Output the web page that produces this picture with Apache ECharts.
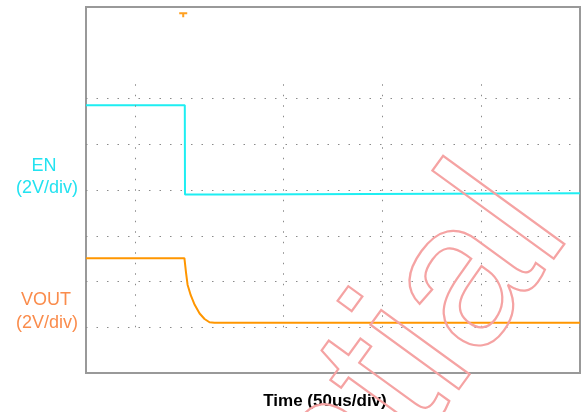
<!DOCTYPE html>
<html>
<head>
<meta charset="utf-8">
<script src="https://cdn.jsdelivr.net/npm/echarts@6/dist/echarts.min.js"></script>
<style>
  html, body { margin: 0; padding: 0; background: #fff; }
  #chart { width: 581px; height: 412px; }
</style>
</head>
<body>
<div id="chart"></div>
<script>
// time in us, voltage in divisions (2V/div)
const enTime = [0, 50, 50.1, 50.4, 72, 72.2, 250]
const enVolt = [5.85, 5.85, 3.9, 3.9, 3.9, 3.93, 3.93]

const voutTime = [0, 49.8, 50.6, 51.4, 53, 55, 57.5, 60, 62.5, 65, 250]
const voutVolt = [2.51, 2.51, 2.2, 1.93, 1.7, 1.49, 1.3, 1.18, 1.11, 1.1, 1.1]

const xGrid = [25, 100, 150, 200]
const yGrid = [1, 2, 3, 4, 5, 6]

const chart = echarts.init(document.getElementById('chart'))

const dotted = { type: [1.5, 9], color: '#8a8a8a', width: 1 }

const gridLines = []
xGrid.forEach((v) => {
  gridLines.push([{ coord: [v, 1] }, { coord: [v, 6.5] }])
})
yGrid.forEach((v) => {
  gridLines.push([{ coord: [0, v] }, { coord: [250, v] }])
})

const labelFont = '18px "Liberation Sans", Arial'

const option = {
  animation: false,
  grid: {
    left: 86,
    right: 1,
    top: 7,
    bottom: 39,
    show: true,
    borderColor: '#999',
    borderWidth: 2
  },
  xAxis: {
    type: 'value',
    min: 0,
    max: 250,
    axisLine: { show: false },
    axisTick: { show: false },
    axisLabel: { show: false },
    splitLine: { show: false }
  },
  yAxis: {
    type: 'value',
    min: 0,
    max: 8,
    axisLine: { show: false },
    axisTick: { show: false },
    axisLabel: { show: false },
    splitLine: { show: false }
  },
  series: [
    {
      name: 'grid',
      type: 'line',
      data: [],
      markLine: {
        silent: true,
        symbol: 'none',
        label: { show: false },
        lineStyle: dotted,
        data: gridLines
      }
    },
    {
      name: 'VOUT',
      type: 'line',
      showSymbol: false,
      data: voutTime.map((t, i) => [t, voutVolt[i]]),
      lineStyle: { color: '#FF9600', width: 2 },
      itemStyle: { color: '#FF9600' },
      markPoint: {
        silent: true,
        symbol: 'path://M0,0 H8 V2 H5 V5 H3 V2 H0 Z',
        symbolSize: [8, 5],
        itemStyle: { color: '#FFA020' },
        label: { show: false },
        data: [{ coord: [49.2, 7.83] }]
      }
    },
    {
      name: 'EN',
      type: 'line',
      showSymbol: false,
      data: enTime.map((t, i) => [t, enVolt[i]]),
      lineStyle: { color: '#1EEEF2', width: 2 },
      itemStyle: { color: '#1EEEF2' }
    }
  ],
  graphic: [
    {
      type: 'text',
      style: {
        x: 44, y: 166, text: 'EN', fill: '#22E2F0',
        font: labelFont, align: 'center', verticalAlign: 'middle'
      }
    },
    {
      type: 'text',
      style: {
        x: 47, y: 188, text: '(2V/div)', fill: '#22E2F0',
        font: labelFont, align: 'center', verticalAlign: 'middle'
      }
    },
    {
      type: 'text',
      style: {
        x: 46, y: 300, text: 'VOUT', fill: '#FA8C4C',
        font: labelFont, align: 'center', verticalAlign: 'middle'
      }
    },
    {
      type: 'text',
      style: {
        x: 47, y: 323, text: '(2V/div)', fill: '#FA8C4C',
        font: labelFont, align: 'center', verticalAlign: 'middle'
      }
    },
    {
      type: 'text',
      style: {
        x: 325, y: 401, text: 'Time (50us/div)', fill: '#000',
        font: 'bold 17px "Liberation Sans", Arial', align: 'center', verticalAlign: 'middle'
      }
    },
    {
      type: 'text',
      x: 610,
      y: 260,
      rotation: 54 * Math.PI / 180,
      z: 100,
      style: {
        x: 0, y: 0, text: 'Confidential',
        font: '207px "Liberation Sans", Arial',
        fill: 'none', stroke: '#F5A3A3', lineWidth: 2.2,
        align: 'right', verticalAlign: 'bottom'
      }
    }
  ]
}

chart.setOption(option)
</script>
</body>
</html>
